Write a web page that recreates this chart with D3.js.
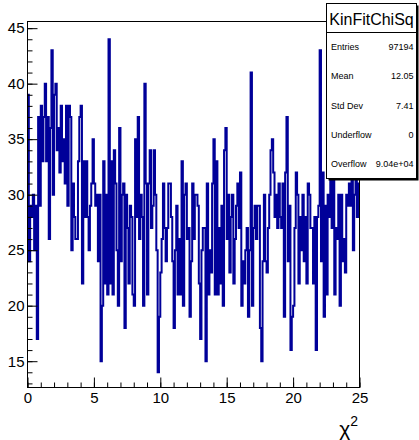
<!DOCTYPE html>
<html><head><meta charset="utf-8">
<script src="https://cdn.jsdelivr.net/npm/d3@7/dist/d3.min.js"></script>
<style>body{margin:0;background:#fff;} svg{display:block;font-family:"Liberation Sans",Arial,Helvetica,sans-serif;}</style>
</head><body>
<svg id="c" width="419" height="440"></svg>
<script>
const histName = "KinFitChiSq";
const xRange = [0, 25];
const counts = [
 39,24,29,28,30,25,29,17,37,29,38,33,37,40,33,37,26,36,43,30,39,40,34,36,32,38,33,35,31,38,29,38,
 37,25,31,28,26,26,33,37,38,22,33,28,33,28,25,29,31,35,31,29,30,24,30,15,20,33,22,30,21,44,22,33,
 21,34,31,25,20,36,24,30,31,18,30,27,22,29,28,21,20,35,28,37,26,30,28,20,40,31,21,31,34,27,29,
 34,30,25,14,19,23,26,31,27,24,27,31,31,28,24,18,25,29,21,26,21,33,20,30,31,26,27,19,24,31,26,30,
 30,29,22,17,25,27,27,15,31,21,25,23,31,35,21,33,21,27,22,29,20,34,36,26,30,23,28,30,22,26,29,31,
 27,32,20,24,22,25,27,19,25,41,20,27,29,26,29,29,18,15,24,30,24,23,27,30,34,35,32,28,30,27,31,28,
 27,31,19,32,37,24,29,16,19,20,27,32,30,22,28,25,30,24,28,22,31,30,27,27,22,28,16,28,29,43,24,
 32,19,29,21,30,28,32,27,34,21,27,26,30,20,30,24,26,23,30,29,31,29,33,25,30,34,28,31
];
const xMajorTicks = [0, 5, 10, 15, 20, 25];
const yMajorTicks = [15, 20, 25, 30, 35, 40, 45];
const statLabels = ["Entries", "Mean", "Std Dev", "Underflow", "Overflow"];
const statValues = ["97194", "12.05", "7.41", "0", "9.04e+04"];
const xTitle = "χ", xTitleSup = "2";

const svg = d3.select("#c");
const L = 27.5, R = 359.5, T = 21.5, B = 387.5;
const x = d3.scaleLinear().domain(xRange).range([L, R]);
const y = d3.scaleLinear().domain([12.63, 45.6]).range([B, T]);
const nb = counts.length;
const bw = (xRange[1] - xRange[0]) / nb;

// histogram step path
const pts = [];
counts.forEach((c, i) => {
  pts.push([x(xRange[0] + i * bw), y(c)]);
  pts.push([x(xRange[0] + (i + 1) * bw), y(c)]);
});
svg.append("path")
  .attr("d", d3.line()(pts))
  .attr("fill", "none")
  .attr("stroke", "#000099")
  .attr("stroke-width", 2)
  .attr("stroke-linejoin", "miter");

// frame
svg.append("rect").attr("x", L).attr("y", T).attr("width", R - L).attr("height", B - T)
  .attr("fill", "none").attr("stroke", "#000").attr("stroke-width", 1);

// axes
const fs = 15;
const yMinor = d3.range(13, 46, 1);
const xMinor = d3.range(0, 26, 1);
const gyMin = svg.append("g").attr("transform", `translate(${L},0)`)
  .call(d3.axisLeft(y).tickValues(yMinor).tickSize(-5).tickFormat(""));
const gy = svg.append("g").attr("transform", `translate(${L},0)`)
  .call(d3.axisLeft(y).tickValues(yMajorTicks).tickSize(-10).tickPadding(3).tickFormat(d3.format("d")));
const gxMin = svg.append("g").attr("transform", `translate(0,${B})`)
  .call(d3.axisBottom(x).tickValues(xMinor).tickSize(-5).tickFormat(""));
const gx = svg.append("g").attr("transform", `translate(0,${B})`)
  .call(d3.axisBottom(x).tickValues(xMajorTicks).tickSize(-10).tickPadding(5).tickFormat(d3.format("d")));
[gyMin, gy, gxMin, gx].forEach(g => {
  g.select(".domain").remove();
  g.selectAll("line").attr("stroke", "#000").attr("stroke-width", 1);
  g.selectAll("text").attr("font-size", fs).attr("fill", "#000")
    .attr("font-family", '"Liberation Sans",Arial,sans-serif');
});

// x title
const xt = svg.append("text").attr("x", 358).attr("y", 436).attr("text-anchor", "end")
  .attr("fill", "#000");
xt.append("tspan").attr("font-size", 21).text(xTitle);
xt.append("tspan").attr("font-size", 14).attr("dy", -10).text(xTitleSup);

// stats box
const sx = 326.5, sy = 3.5, sw = 90, sh = 175;
svg.append("rect").attr("x", sx + 2).attr("y", sy + 2).attr("width", sw).attr("height", sh).attr("fill", "#000");
svg.append("rect").attr("x", sx).attr("y", sy).attr("width", sw).attr("height", sh)
  .attr("fill", "#fff").attr("stroke", "#000").attr("stroke-width", 1);
const titleH = 29;
svg.append("line").attr("x1", sx).attr("x2", sx + sw).attr("y1", sy + titleH).attr("y2", sy + titleH)
  .attr("stroke", "#000");
svg.append("text").attr("x", sx + sw / 2).attr("y", 24.5).attr("text-anchor", "middle")
  .attr("font-size", 16).attr("fill", "#000").text(histName);
const rowH = (sh - titleH) / statLabels.length;
statLabels.forEach((lab, i) => {
  const cy = sy + titleH + rowH * (i + 0.5) + 3;
  svg.append("text").attr("x", sx + 4.5).attr("y", cy).attr("font-size", 9).attr("fill", "#000").text(lab);
  svg.append("text").attr("x", sx + sw - 3).attr("y", cy).attr("text-anchor", "end")
    .attr("font-size", 9).attr("fill", "#000").text(statValues[i]);
});
</script>
</body></html>
